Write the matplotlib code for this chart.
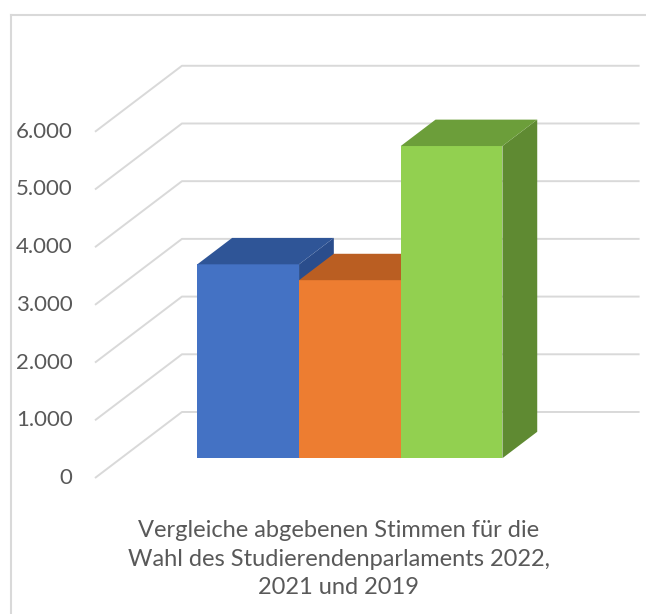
import matplotlib
matplotlib.use("Agg")
import matplotlib.pyplot as plt
from matplotlib.patches import Polygon
from matplotlib.lines import Line2D

plt.rcParams['font.family'] = ['Lato', 'DejaVu Sans']

# ------------------ data ------------------
series = ['2022', '2021', '2019']
votes = [3360, 3085, 5410]
front_colors = ['#4472C4', '#ED7D31', '#92D050']
top_colors = ['#2F5597', '#BA5E22', '#6C9E3A']
side_colors = ['#2A4D8C', '#A95520', '#5F8A32']
ticks = [0, 1000, 2000, 3000, 4000, 5000, 6000]
tick_labels = ['0', '1.000', '2.000', '3.000', '4.000', '5.000', '6.000']
title = ('Vergleiche abgebenen Stimmen für die\n'
         'Wahl des Studierendenparlaments 2022,\n'
         '2021 und 2019')

# ------------------ oblique projection ------------------
floor_left, floor_right = -0.75, 3.75
depth_dx, depth_dv = 0.855, 1144.0      # shift of the back wall
bar_d0, bar_d1 = 0.30, 0.70             # bar depth range on the floor
text_gray = '#595959'
grid_gray = '#D9D9D9'


def proj(x, v, d):
    return (x + depth_dx * d, v + depth_dv * d)


fig = plt.figure(figsize=(6.46, 6.14), dpi=100)
ax = fig.add_axes([0, 0, 1, 1])
ax.set_xlim(-1.684, 4.668)
ax.set_ylim(-2357, 8284)
ax.axis('off')

# gridlines: diagonal on the side wall, then along the back wall
for t in ticks:
    p0 = proj(floor_left, t, 0)
    p1 = proj(floor_left, t, 1)
    p2 = proj(floor_right, t, 1)
    ax.plot([p0[0], p1[0], p2[0]], [p0[1], p1[1], p2[1]],
            color=grid_gray, lw=1.4, solid_capstyle='butt', zorder=1)

for t, lab in zip(ticks, tick_labels):
    ax.text(floor_left - 0.22, t, lab, ha='right', va='center',
            fontsize=16, color=text_gray)

# bars, left to right so each front face covers the previous side
for i, v in enumerate(votes):
    x0, x1 = float(i), float(i + 1)
    front = [proj(x0, 0, bar_d0), proj(x1, 0, bar_d0),
             proj(x1, v, bar_d0), proj(x0, v, bar_d0)]
    top = [proj(x0, v, bar_d0), proj(x1, v, bar_d0),
           proj(x1, v, bar_d1), proj(x0, v, bar_d1)]
    side = [proj(x1, 0, bar_d0), proj(x1, 0, bar_d1),
            proj(x1, v, bar_d1), proj(x1, v, bar_d0)]
    z = 2 + i
    ax.add_patch(Polygon(side, closed=True, fc=side_colors[i], ec='none', zorder=z))
    ax.add_patch(Polygon(front, closed=True, fc=front_colors[i], ec='none', zorder=z))
    ax.add_patch(Polygon(top, closed=True, fc=top_colors[i], ec='none', zorder=z))

fig.text(339 / 646, 1 - 559 / 614, title, ha='center', va='center',
         multialignment='center', fontsize=17, color=text_gray, linespacing=1.45)

# chart border (only left and top edges fall inside the picture)
bx, by = 10.5 / 646, 1 - 14.5 / 614
fig.add_artist(Line2D([bx, bx], [0, by], transform=fig.transFigure,
                      color=grid_gray, lw=1.5))
fig.add_artist(Line2D([bx, 1], [by, by], transform=fig.transFigure,
                      color=grid_gray, lw=1.5))

fig.savefig('out.png', dpi=100)
